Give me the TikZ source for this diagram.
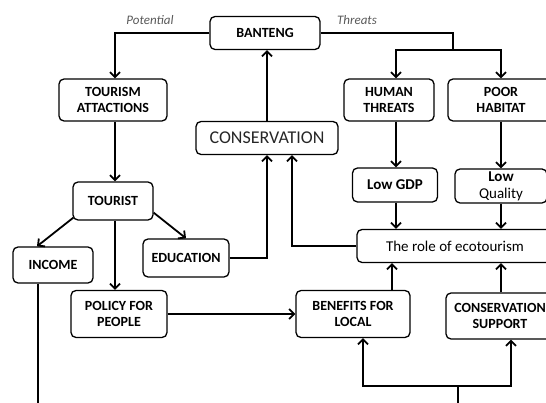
\documentclass[tikz,border=0pt]{standalone}
\usepackage{fontspec}
\setmainfont{Carlito}
\usetikzlibrary{arrows.meta}
\tikzset{>={Straight Barb[length=5pt,width=10pt]}}

\begin{document}
\begin{tikzpicture}[x=1pt, y=-1pt,
  box/.style={draw, rounded corners=5pt, line width=1.3pt, align=center, inner sep=1pt,
    font=\fontsize{14}{16}\selectfont\bfseries},
  plain/.style={box, font=\fontsize{15}{17}\selectfont},
  lbl/.style={font=\fontsize{13}{15}\selectfont\itshape, text=black!65},
  link/.style={line width=1.8pt}]

  \useasboundingbox (0,0) rectangle (546,403);

  % columns of the connectors
  \coordinate (xa) at (115,0);
  \coordinate (xb) at (267,0);
  \coordinate (xc) at (292,0);
  \coordinate (xd) at (396,0);
  \coordinate (xe) at (501,0);
  \coordinate (xg) at (392,0);
  \coordinate (xh) at (363,0);
  \coordinate (xi) at (511,0);
  \coordinate (xk) at (37,0);
  \coordinate (split) at (453,50);
  \coordinate (join) at (458,386);
  \coordinate (foot) at (458,410);
  \coordinate (incfoot) at (38,410);

  \node[lbl] (potential) at (150,20) {Potential};
  \node[lbl] (threats) at (357,20) {Threats};

  \node[box, minimum width=110pt, minimum height=33pt] (banteng) at (265,33) {BANTENG};
  \node[box, minimum width=108pt, minimum height=42pt] (tour) at (113,100) {TOURISM\\ATTACTIONS};
  \node[box, minimum width=90pt, minimum height=42pt] (human) at (389,100) {HUMAN\\THREATS};
  \node[box, minimum width=106pt, minimum height=42pt] (poor) at (501,100) {POOR\\HABITAT};
  \node[box, font=\fontsize{18}{20}\selectfont, text=black!85, minimum width=142pt, minimum height=33pt] (cons) at (267,138) {CONSERVATION};
  \node[box, minimum width=80pt, minimum height=38pt] (tourist) at (113,201) {TOURIST};
  \node[box, font=\fontsize{15}{17}\selectfont\bfseries, minimum width=85pt, minimum height=34pt] (lowgdp) at (395,185) {Low GDP};
  \node[plain, minimum width=92pt, minimum height=34pt, inner sep=0pt] (lowq) at (501,186) {\textbf{Low}\\Quality};
  \node[box, minimum width=80pt, minimum height=36pt] (income) at (53,265) {INCOME};
  \node[box, minimum width=86pt, minimum height=38pt] (edu) at (186,258) {EDUCATION};
  \node[plain, minimum width=196pt, minimum height=33pt] (role) at (455,246) {The role of ecotourism};
  \node[box, minimum width=96pt, minimum height=47pt] (policy) at (119,314) {POLICY FOR\\PEOPLE};
  \node[box, minimum width=114pt, minimum height=47pt] (benefits) at (353,314) {BENEFITS FOR\\LOCAL};
  \node[box, minimum width=108pt, minimum height=46pt] (support) at (500,316) {CONSERVATION\\SUPPORT};

  \draw[link,->] (banteng.west) -| (tour.north -| xa);
  \draw[link] (banteng.east) -| (split);
  \draw[link,->] (split) -| (human.north -| xd);
  \draw[link,->] (split) -| (poor.north -| xe);
  \draw[link,->] (cons.north -| xb) -- (banteng.south -| xb);
  \draw[link,->] (tour.south -| xa) -- (tourist.north -| xa);
  \draw[link,->] ([xshift=1pt,yshift=3pt]tourist.south west) -- (income.north -| xk);
  \draw[link,->] ([yshift=8pt]tourist.south east) -- (edu.north);
  \draw[link,->] (tourist.south -| xa) -- (policy.north -| xa);
  \draw[link,->] (edu.east) -| (cons.south -| xb);
  \draw[link,->] (role.west) -| (cons.south -| xc);
  \draw[link,->] (human.south -| xd) -- (lowgdp.north -| xd);
  \draw[link,->] (poor.south -| xe) -- (lowq.north -| xe);
  \draw[link,->] (lowgdp.south -| xd) -- (role.north -| xd);
  \draw[link,->] (lowq.south -| xe) -- (role.north -| xe);
  \draw[link,->] (policy.east) -- (benefits.west);
  \draw[link,->] (benefits.north -| xg) -- (role.south -| xg);
  \draw[link,->] (support.north -| xe) -- (role.south -| xe);
  \draw[link] (foot) -- (join);
  \draw[link,->] (join) -| (benefits.south -| xh);
  \draw[link,->] (join) -| (support.south -| xi);
  \draw[link] (income.south -| incfoot) -- (incfoot);

\end{tikzpicture}
\end{document}
